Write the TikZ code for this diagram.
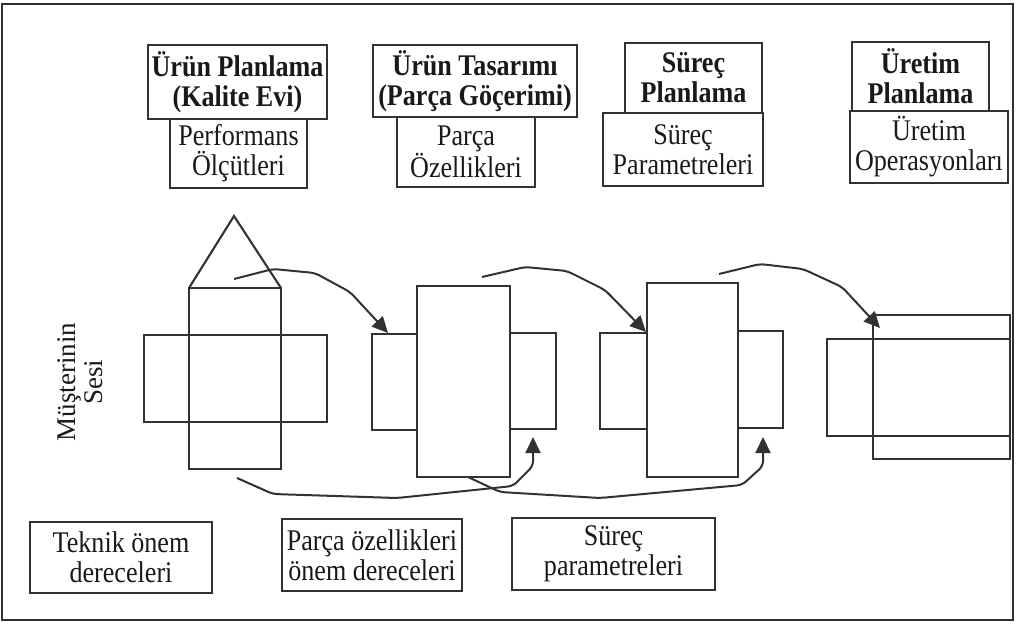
\documentclass[tikz,border=0pt]{standalone}
\usepackage{fontspec}
\setmainfont{Liberation Serif}[FakeStretch=0.87]
\newfontfamily\plainserif{Liberation Serif}
\usetikzlibrary{arrows.meta,fit}
\definecolor{ink}{RGB}{50,50,50}
\definecolor{txt}{RGB}{25,25,25}
\tikzset{
  frame/.style={draw=ink,line width=2.2pt},
  hbox/.style={draw=ink,line width=2.1pt,inner sep=1pt,align=center,text=txt,
    font=\fontsize{30}{30}\selectfont\bfseries},
  sbox/.style={draw=ink,line width=2.1pt,inner sep=1pt,align=center,text=txt,
    font=\fontsize{30}{30}\selectfont},
  blk/.style={draw=ink,line width=2.1pt,inner sep=0pt,outer sep=0pt},
  flow/.style={draw=ink,line width=2pt,rounded corners=5pt,
    -{Triangle[length=16pt,width=15pt]}},
}
\begin{document}
\begin{tikzpicture}[x=1pt,y=-1pt]
\useasboundingbox (0,0) rectangle (1017,624);
\draw[frame] (2,4) rectangle (1013,620);

% top heading boxes
\node[hbox,minimum width=179pt,minimum height=74pt] (h1) at (237.5,82) {Ürün Planlama\\(Kalite Evi)};
\node[sbox,minimum width=137pt,minimum height=69pt] (s1) at (238.5,153.5) {Performans\\Ölçütleri};
\node[hbox,minimum width=204pt,minimum height=72pt] (h2) at (475,81) {Ürün Tasarımı\\(Parça Göçerimi)};
\node[sbox,minimum width=138pt,minimum height=70pt] (s2) at (466,152) {Parça\\Özellikleri};
\node[hbox,minimum width=137pt,minimum height=70pt] (h3) at (693.5,78) {Süreç\\Planlama};
\node[sbox,minimum width=160pt,minimum height=73pt] (s3) at (683,149.5) {Süreç\\Parametreleri};
\node[hbox,minimum width=137pt,minimum height=69pt] (h4) at (920.5,76.5) {Üretim\\Planlama};
\node[sbox,minimum width=158pt,minimum height=72pt] (s4) at (929,147) {Üretim\\Operasyonları};

% bottom boxes
\node[sbox,minimum width=182pt,minimum height=71pt] (b1) at (121,557.5) {Teknik önem\\dereceleri};
\node[sbox,minimum width=180pt,minimum height=72pt] (b2) at (372,555) {Parça özellikleri\\önem dereceleri};
\node[sbox,minimum width=203pt,minimum height=72pt] (b3) at (613.5,554) {Süreç\\parametreleri};

% voice of customer
\node[text=txt,align=center,rotate=90,font=\plainserif\fontsize{27}{27}\selectfont] (vc) at (80,382) {Müşterinin\\Sesi};

% group 1 (house of quality)
\node[blk,fit={(189,288)(281,469)}] (g1v) {};
\node[blk,fit={(144,335)(327,422)}] (g1h) {};
\coordinate (apex) at (234,216);
\draw[ink,line width=2.1pt,line join=miter] (g1v.north west) -- (apex) -- (g1v.north east);

% group 2
\node[blk,fit={(372,334)(417,430)}] (g2l) {};
\node[blk,fit={(510,333)(556,429)}] (g2r) {};
\node[blk,fit={(417,286)(510,477)}] (g2t) {};

% group 3
\node[blk,fit={(600,333)(647,429)}] (g3l) {};
\node[blk,fit={(738,331)(783,428)}] (g3r) {};
\node[blk,fit={(647,283)(738,477)}] (g3t) {};

% group 4
\node[blk,fit={(827,339)(1010,436)}] (g4h) {};
\node[blk,fit={(873,315)(1010,459)}] (g4t) {};

% connector end points
\coordinate (a1s) at (234,279);
\coordinate (a1e) at (388,333);
\coordinate (a2s) at (482,277);
\coordinate (a2e) at (646,332);
\coordinate (a3s) at (719,274);
\coordinate (a3e) at (880,328);
\coordinate (a4s) at (237,478);
\coordinate (a4e) at (533,437);
\coordinate (a5s) at (468,477);
\coordinate (a5e) at (763,437);

\draw[flow] (a1s) -- (273,269) -- (315,273) -- (350,292) -- (a1e);
\draw[flow] (a2s) -- (525,267) -- (567,271) -- (605,290) -- (a2e);
\draw[flow] (a3s) -- (760,264) -- (803,269) -- (842,287) -- (a3e);
\draw[flow] (a4s) -- (273,494) -- (397,498) -- (513,486) -- (533,466) -- (a4e);
\draw[flow] (a5s) -- (500,492) -- (600,498) -- (742,485) -- (763,466) -- (a5e);
\end{tikzpicture}
\end{document}
